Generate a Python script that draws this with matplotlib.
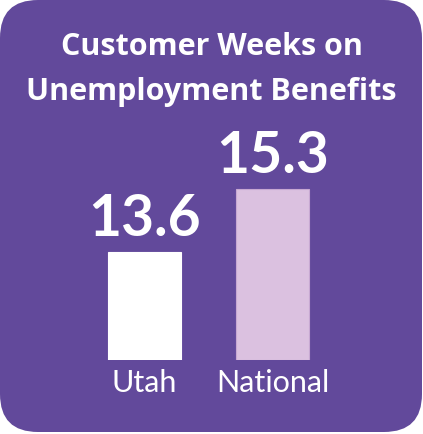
import matplotlib
matplotlib.use("Agg")
import matplotlib.pyplot as plt
from matplotlib.patches import FancyBboxPatch

categories = ["Utah", "National"]
values = [13.6, 15.3]
value_labels = ["13.6", "15.3"]
title_lines = ["Customer Weeks on", "Unemployment Benefits"]

W, H = 423, 434
DPI = 100
BG = "#62499B"
bar_colors = ["#FFFFFF", "#DBC1E0"]
edge_colors = ["#FFFFFF", "#C7A8D2"]

fig = plt.figure(figsize=(W / DPI, H / DPI), dpi=DPI)
fig.patch.set_facecolor("white")

# background rounded panel in pixel coordinates
bg_ax = fig.add_axes([0, 0, 1, 1])
bg_ax.set_xlim(0, W)
bg_ax.set_ylim(H, 0)
bg_ax.axis("off")
r = 38
panel = FancyBboxPatch((r, r), W - 1 - 2 * r, H - 2 - 2 * r,
                       boxstyle=f"round,pad={r},rounding_size={r}",
                       facecolor=BG, edgecolor="none")
bg_ax.add_patch(panel)

# title
for i, (line, yb) in enumerate(zip(title_lines, [55, 100])):
    fig.text(0.5, 1 - yb / H, line, ha="center", va="baseline",
             color="white", fontsize=22, fontweight="bold", family="Open Sans")

# bars axes
base_px = 359.5
ax_left = 80.5 / W
ax_w = 256 / W
ymin, ymax = 10.7, 16.0
px_per_unit = 37.06
ax_h_px = (ymax - ymin) * px_per_unit
ax = fig.add_axes([ax_left, (H - base_px) / H, ax_w, ax_h_px / H])
ax.set_facecolor("none")
ax.set_xlim(-0.5, 1.5)
ax.set_ylim(ymin, ymax)
ax.axis("off")

x = list(range(len(categories)))
bars = ax.bar(x, [v - ymin for v in values], bottom=ymin, width=0.57,
              color=bar_colors, edgecolor=edge_colors, linewidth=0.8)

for xi, v, lab in zip(x, values, value_labels):
    ax.annotate(lab, (xi, v), xytext=(0, 16), textcoords="offset pixels",
                ha="center", va="baseline", color="white", fontsize=41,
                fontweight="bold", family="Lato")

for xi, cat in zip(x, categories):
    ax.annotate(cat, (xi, ymin), xytext=(0, -33), textcoords="offset pixels",
                ha="center", va="baseline", color="white", fontsize=22,
                fontweight="normal", family="Lato")

fig.savefig("out.png", dpi=DPI, facecolor="white")
